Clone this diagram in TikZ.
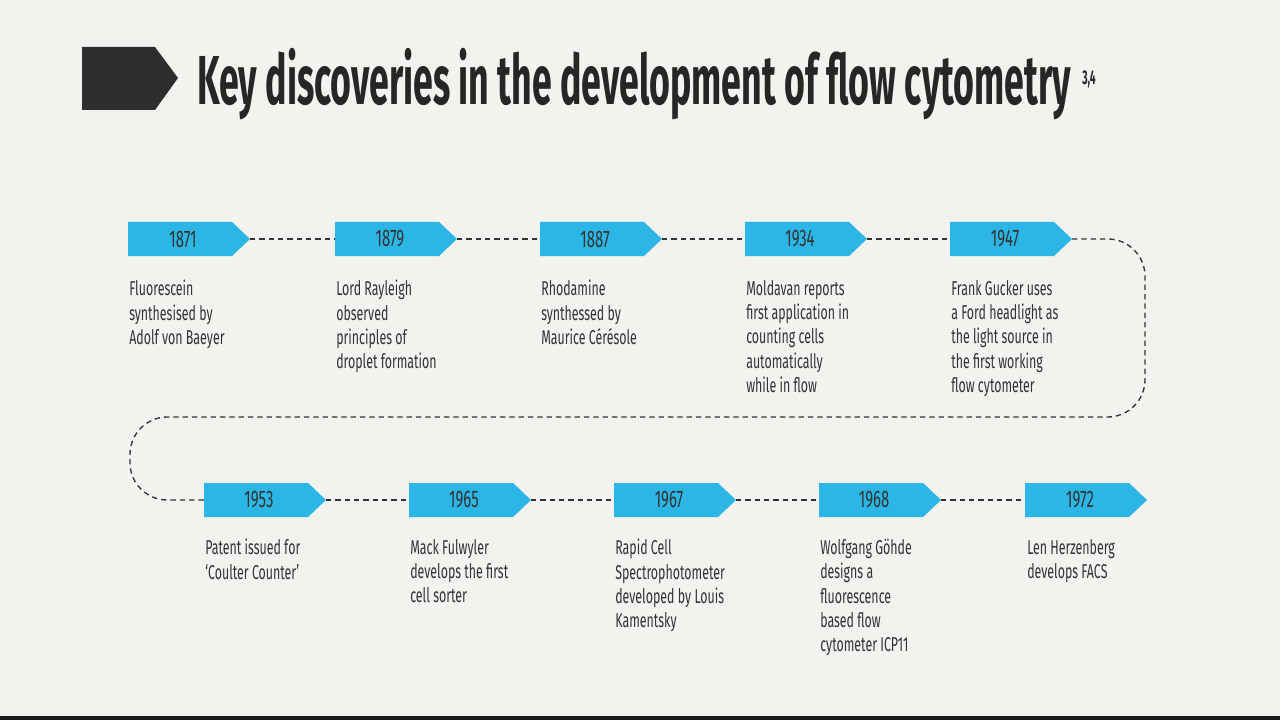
\documentclass[tikz,border=0pt]{standalone}
\usepackage{fontspec}
\setmainfont{Fira Sans}
\newfontfamily\descf[FakeStretch=0.62]{Fira Sans}
\newfontfamily\titlef[FakeStretch=0.515]{Fira Sans}
\begin{document}
\begin{tikzpicture}[x=0.75pt,y=-0.75pt,
  dsh/.style={line width=1pt,draw=black!80,dash pattern=on 4pt off 3pt},
  desc/.style={anchor=north west,align=left,inner sep=0pt,font=\descf\fontsize{15}{18.2}\selectfont,text=black!80}]
\definecolor{tagblue}{HTML}{2CB6E6}
\definecolor{bg}{HTML}{F2F2EE}
\fill[bg] (0,0) rectangle (1280,720);
\fill[black!90] (0,716) rectangle (1280,720);
\fill[black!82] (82,47) -- (155,47) -- (178,78) -- (155,110) -- (82,110) -- cycle;
\node[anchor=west,inner sep=0pt,text=black!85] (title) at (197,84) {\titlef\bfseries\fontsize{52}{52}\selectfont Key discoveries in the development of flow cytometry};
\node[anchor=north west,inner sep=0pt,text=black!85] (sup) at (1082,70) {\titlef\bfseries\fontsize{15}{15}\selectfont 3,4};
\newcommand{\tagat}[4]{%
  \fill[tagblue] (#1,#2-17) -- (#1+104,#2-17) -- (#1+122,#2) -- (#1+104,#2+17) -- (#1,#2+17) -- cycle;
  \node[inner sep=0pt,text=black!80] (#3) at (#1+55,#2) {\descf\fontsize{18}{18}\selectfont #4};
  \coordinate (#3s) at (#1,#2); \coordinate (#3e) at (#1+122,#2);}
\tagat{128}{239}{a}{1871}
\tagat{335}{239}{b}{1879}
\tagat{540}{239}{c}{1887}
\tagat{745}{239}{d}{1934}
\tagat{950}{239}{e}{1947}
\tagat{204}{500}{f}{1953}
\tagat{409}{500}{g}{1965}
\tagat{614}{500}{h}{1967}
\tagat{819}{500}{i}{1968}
\tagat{1025}{500}{j}{1972}
\draw[dsh] (ae) -- (bs); \draw[dsh] (be) -- (cs); \draw[dsh] (ce) -- (ds); \draw[dsh] (de) -- (es);
\draw[dsh] (fe) -- (gs); \draw[dsh] (ge) -- (hs); \draw[dsh] (he) -- (is); \draw[dsh] (ie) -- (js);
\draw[dsh,rounded corners=28pt] (ee) -- (1145,239) -- (1145,417) -- (130,417) -- (130,500) -- (fs);
\node[desc] (da) at (129,280) {Fluorescein\\synthesised by\\Adolf von Baeyer};
\node[desc] (db) at (336,280) {Lord Rayleigh\\observed\\principles of\\droplet formation};
\node[desc] (dc) at (541,280) {Rhodamine\\synthessed by\\Maurice Cérésole};
\node[desc] (dd) at (746,280) {Moldavan reports\\first application in\\counting cells\\automatically\\while in flow};
\node[desc] (de) at (951,280) {Frank Gucker uses\\a Ford headlight as\\the light source in\\the first working\\flow cytometer};
\node[desc] (df) at (205,539) {Patent issued for\\‘Coulter Counter’};
\node[desc] (dg) at (410,539) {Mack Fulwyler\\develops the first\\cell sorter};
\node[desc] (dh) at (615,539) {Rapid Cell\\Spectrophotometer\\developed by Louis\\Kamentsky};
\node[desc] (di) at (820,539) {Wolfgang Göhde\\designs a\\fluorescence\\based flow\\cytometer ICP11};
\node[desc] (dj) at (1027,539) {Len Herzenberg\\develops FACS};
\end{tikzpicture}
\end{document}
